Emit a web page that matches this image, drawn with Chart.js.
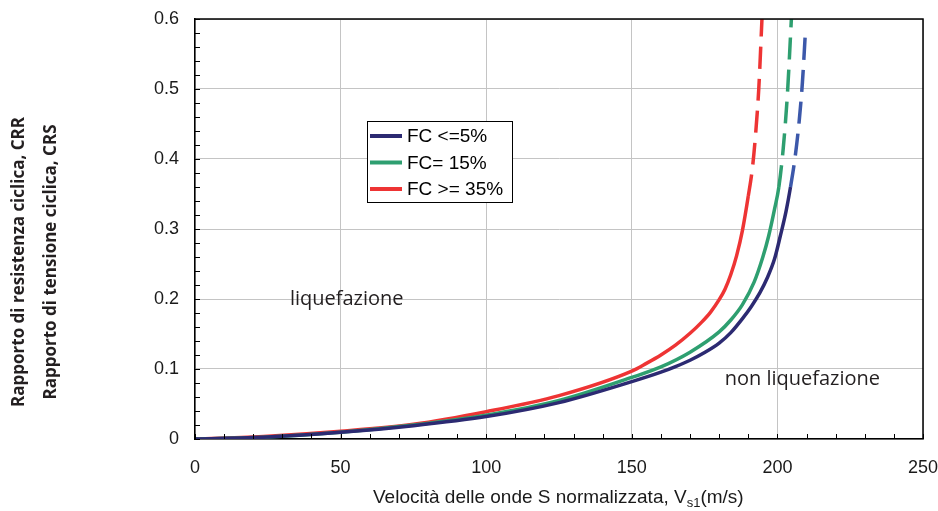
<!DOCTYPE html>
<html>
<head>
<meta charset="utf-8">
<script src="https://cdn.jsdelivr.net/npm/chart.js@4.4.1/dist/chart.umd.min.js"></script>
<style>
  html, body { margin: 0; padding: 0; background: #fff; }
  #wrap { width: 938px; height: 511px; }
</style>
</head>
<body>
<div id="wrap"><canvas id="crrChart"></canvas></div>
<script>
// Vs1 (m/s) and CRR, one pair per curve
const vsFc5 = [0, 25, 50, 75, 100, 125, 150, 160, 165, 170, 175, 180, 184, 188, 191, 194, 196.5, 199, 201, 203, 204.5, 206, 207.5, 208.6, 209.6];
const crrFc5 = [0, 0.003, 0.0095, 0.019, 0.032, 0.052, 0.082, 0.0955, 0.1035, 0.1125, 0.1235, 0.137, 0.152, 0.172, 0.189, 0.209, 0.23, 0.257, 0.29, 0.326, 0.36, 0.4, 0.455, 0.51, 0.58];

const vsFc15 = [0, 25, 50, 75, 100, 125, 150, 160, 170, 180, 184, 188, 192, 195, 197, 199, 200.5, 202, 203.4, 204.8];
const crrFc15 = [0, 0.003, 0.0097, 0.02, 0.034, 0.055, 0.088, 0.103, 0.124, 0.153, 0.17, 0.192, 0.224, 0.26, 0.29, 0.328, 0.36, 0.415, 0.49, 0.6];

const vsFc35 = [0, 25, 50, 75, 100, 125, 150, 155, 160, 165, 170, 174, 177, 180, 182, 184, 186, 188, 190, 191.5, 192.6, 193.6, 194.7];
const crrFc35 = [0, 0.004, 0.011, 0.021, 0.039, 0.062, 0.097, 0.108, 0.12, 0.134, 0.151, 0.167, 0.181, 0.199, 0.214, 0.235, 0.262, 0.298, 0.347, 0.39, 0.44, 0.5, 0.6];

const seriesLabels = ["FC <=5%", "FC= 15%", "FC >= 35%"];
const xTicks = [0, 50, 100, 150, 200, 250];
const yTicks = [0, 0.1, 0.2, 0.3, 0.4, 0.5, 0.6];
const dashFrom = 0.34; // above this the curves are dashed

const xTitle = ["Velocità delle onde S normalizzata, V", "s1", "(m/s)"];
const yTitle = ["Rapporto di resistenza ciclica, CRR", "Rapporto di tensione ciclica, CRS"];
const zoneLabels = [
    { text: "liquefazione", x: 32.6, y: 0.191 },
    { text: "non liquefazione", x: 181.9, y: 0.077 }
];

function toPoints(xs, ys) {
    return xs.map((v, i) => ({ x: v, y: ys[i] }));
}

function curve(label, xs, ys, color, dashColor) {
    return {
        label: label,
        data: toPoints(xs, ys),
        borderColor: color,
        borderWidth: 3.5,
        pointRadius: 0,
        fill: false,
        cubicInterpolationMode: "monotone",
        segment: {
            borderDash: ctx => ctx.p0.parsed.y >= dashFrom ? [22, 10] : undefined,
            borderColor: ctx => ctx.p0.parsed.y >= dashFrom ? dashColor : color
        }
    };
}

// frame, inward ticks, titles, zone labels and the boxed legend
const decorations = {
    id: "decorations",
    afterDatasetsDraw(chart) {
        const { ctx, chartArea: a, scales: { x, y } } = chart;
        ctx.save();

        ctx.strokeStyle = "#000";
        ctx.lineWidth = 1;
        ctx.beginPath();
        for (let v = 0; v <= 250; v += 10) {
            const px = Math.round(x.getPixelForValue(v)) + 0.5;
            ctx.moveTo(px, a.bottom);
            ctx.lineTo(px, a.bottom - 5);
        }
        for (let i = 0; i <= 30; i++) {
            const py = Math.round(y.getPixelForValue(i * 0.02)) + 0.5;
            ctx.moveTo(a.left, py);
            ctx.lineTo(a.left + 5, py);
        }
        ctx.stroke();

        ctx.lineWidth = 1.5;
        ctx.beginPath();
        ctx.moveTo(a.left, a.top);
        ctx.lineTo(a.right, a.top);
        ctx.lineTo(a.right, a.bottom);
        ctx.stroke();

        // zone labels
        ctx.fillStyle = "#231f20";
        ctx.font = "20px 'Open Sans'";
        ctx.textAlign = "left";
        ctx.textBaseline = "alphabetic";
        zoneLabels.forEach(z => ctx.fillText(z.text, x.getPixelForValue(z.x), y.getPixelForValue(z.y)));

        // x title with subscript
        const big = "19px 'Liberation Sans'";
        const small = "13px 'Liberation Sans'";
        ctx.font = big;
        const w0 = ctx.measureText(xTitle[0]).width;
        ctx.font = small;
        const w1 = ctx.measureText(xTitle[1]).width;
        let tx = 373;
        const ty = a.bottom + 64;
        ctx.fillStyle = "#1a1a1a";
        ctx.font = big;
        ctx.fillText(xTitle[0], tx, ty);
        tx += w0;
        ctx.font = small;
        ctx.fillText(xTitle[1], tx, ty + 4);
        tx += w1;
        ctx.font = big;
        ctx.fillText(xTitle[2], tx, ty);

        // y titles
        ctx.fillStyle = "#231f20";
        ctx.font = "bold 17px 'Open Sans'";
        ctx.textAlign = "center";
        ctx.textBaseline = "middle";
        yTitle.forEach((t, i) => {
            ctx.save();
            ctx.translate(19 + i * 32, 262);
            ctx.rotate(-Math.PI / 2);
            ctx.fillText(t, 0, 0);
            ctx.restore();
        });

        // legend box
        const lx = a.left + 172, ly = a.top + 102;
        ctx.fillStyle = "#fff";
        ctx.fillRect(lx, ly, 145, 81);
        ctx.strokeStyle = "#000";
        ctx.lineWidth = 1;
        ctx.strokeRect(lx + 0.5, ly + 0.5, 145, 81);
        ctx.font = "19px 'Liberation Sans'";
        ctx.textAlign = "left";
        ctx.textBaseline = "middle";
        chart.data.datasets.forEach((ds, i) => {
            const ry = ly + 15 + i * 26.5;
            ctx.strokeStyle = ds.borderColor;
            ctx.lineWidth = 4;
            ctx.beginPath();
            ctx.moveTo(lx + 3, ry);
            ctx.lineTo(lx + 35, ry);
            ctx.stroke();
            ctx.fillStyle = "#000";
            ctx.fillText(ds.label, lx + 40, ry + 1);
        });

        ctx.restore();
    }
};

new Chart(document.getElementById("crrChart"), {
    type: "line",
    data: {
        datasets: [
            curve(seriesLabels[0], vsFc5, crrFc5, "#2c2a72", "#3c58aa"),
            curve(seriesLabels[1], vsFc15, crrFc15, "#2e9f70", "#2e9f70"),
            curve(seriesLabels[2], vsFc35, crrFc35, "#ee3434", "#ee3434")
        ]
    },
    options: {
        responsive: true,
        maintainAspectRatio: false,
        animation: false,
        layout: { padding: { top: 19, right: 15, left: 0, bottom: 0 } },
        plugins: {
            legend: { display: false },
            tooltip: { enabled: false }
        },
        scales: {
            x: {
                type: "linear",
                min: 0,
                max: 250,
                afterBuildTicks: s => { s.ticks = xTicks.map(v => ({ value: v })); },
                afterFit: s => { s.height = 72; s.paddingLeft = 0; s.paddingRight = 0; },
                ticks: {
                    color: "#1a1a1a",
                    font: { family: "'Liberation Sans'", size: 18 },
                    padding: 18,
                    maxRotation: 0
                },
                grid: { color: "#c4c4c4", lineWidth: 1, drawTicks: false },
                border: { color: "#000", width: 1.5 }
            },
            y: {
                min: 0,
                max: 0.6,
                afterBuildTicks: s => { s.ticks = yTicks.map(v => ({ value: v })); },
                afterFit: s => { s.width = 195; s.paddingTop = 0; s.paddingBottom = 0; },
                ticks: {
                    color: "#1a1a1a",
                    font: { family: "'Liberation Sans'", size: 18 },
                    padding: 16,
                    callback: v => String(v)
                },
                grid: { color: "#c4c4c4", lineWidth: 1, drawTicks: false },
                border: { color: "#000", width: 1.5 }
            }
        }
    },
    plugins: [decorations]
});
</script>
</body>
</html>
